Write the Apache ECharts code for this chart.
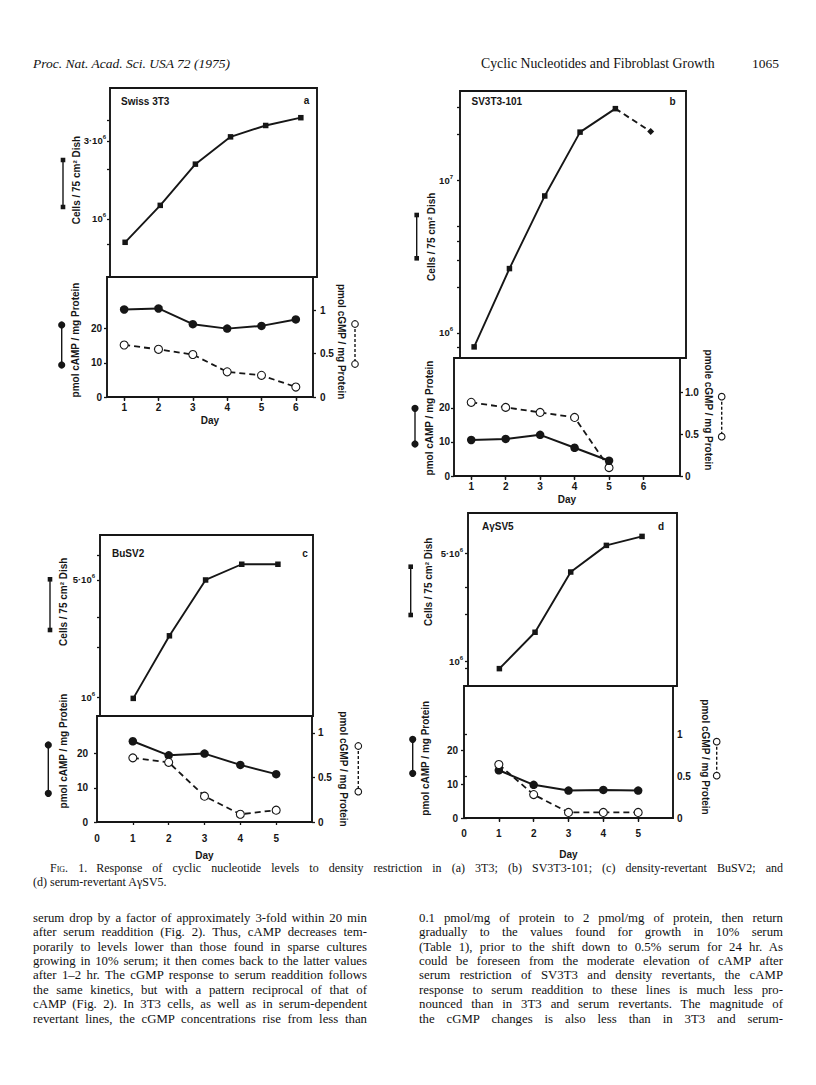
<!DOCTYPE html>
<html>
<head>
<meta charset="utf-8">
<title>Fig. 1 – Cyclic nucleotides and fibroblast growth</title>
<script src="https://cdn.jsdelivr.net/npm/echarts@6.0.0/dist/echarts.min.js"></script>
<style>
  html, body { margin:0; padding:0; background:#fff; }
  #page { position:relative; width:816px; height:1085px; overflow:hidden; background:#fff; }
  #chart { position:absolute; left:0; top:0; width:816px; height:1085px; }
  .tx { position:absolute; font-family:'Liberation Serif','Times New Roman',serif; color:#111; white-space:nowrap; }
</style>
</head>
<body>
<div id="page"><div id="chart"></div></div>
<script>
// ===================== DATA =====================
// (a) Swiss 3T3
const daysA  = [1, 2, 3, 4, 5, 6];
const cellsA = [7.2e5, 1.21e6, 2.16e6, 3.17e6, 3.72e6, 4.15e6];
const campA  = [25.6, 25.9, 21.3, 20.0, 20.8, 22.7];
const cgmpA  = [0.60, 0.55, 0.49, 0.29, 0.25, 0.115];
// (b) SV3T3-101
const daysB    = [1, 2, 3, 4, 5, 6];
const cellsB   = [8.1e5, 2.64e6, 7.9e6, 2.07e7, 2.95e7, 2.09e7];
const nucDaysB = [1, 2, 3, 4, 5];
const campB    = [10.6, 10.9, 12.1, 8.3, 4.5];
const cgmpB    = [0.88, 0.82, 0.76, 0.70, 0.10];
// (c) BuSV2
const daysC  = [1, 2, 3, 4, 5];
const cellsC = [9.9e5, 2.33e6, 5.0e6, 6.2e6, 6.2e6];
const campC  = [23.6, 19.5, 20.0, 16.7, 14.0];
const cgmpC  = [0.72, 0.67, 0.29, 0.087, 0.133];
// (d) AγSV5
const daysD  = [1, 2, 3, 4, 5];
const cellsD = [8.97e5, 1.54e6, 3.77e6, 5.6e6, 6.4e6];
const campD  = [14.1, 9.8, 8.1, 8.3, 8.1];
const cgmpD  = [0.64, 0.28, 0.067, 0.067, 0.067];

// ===================== TICKS / LABELS =====================
const dayTicks16   = [1, 2, 3, 4, 5, 6];
const dayTicks15   = [1, 2, 3, 4, 5];
const dayLabels05  = [0, 1, 2, 3, 4, 5];
const campTicks    = [0, 10, 20];
const cgmpTicks    = [0, 0.5, 1];
const cgmpLabels   = ['0', '0.5', '1'];
const cgmpLabelsB  = ['0', '0.5', '1.0'];
const cellMarksA   = [7e5, 1e6, 2e6, 3e6, 4e6];
const cellLabValA  = [1e6, 3e6];
const cellLabA     = ['10^6', '3·10^6'];
const cellMarksB   = [8e5, 1e6, 2e6, 3e6, 4e6, 5e6, 1e7, 2e7, 3e7];
const cellLabValB  = [1e6, 1e7];
const cellLabB     = ['10^6', '10^7'];
const cellMarksC   = [1e6, 2e6, 3e6, 5e6, 7e6];
const cellLabValC  = [1e6, 5e6];
const cellLabC     = ['10^6', '5·10^6'];
const cellMarksD   = [9e5, 1e6, 2e6, 3e6, 5e6];
const cellLabValD  = [1e6, 5e6];
const cellLabD     = ['10^6', '5·10^6'];

const panelNames   = ['Swiss 3T3', 'SV3T3-101', 'BuSV2', 'AγSV5'];
const panelLetters = ['a', 'b', 'c', 'd'];
const cellsName    = 'Cells / 75 cm² Dish';
const campName     = 'pmol cAMP / mg Protein';
const cgmpNames    = ['pmol cGMP / mg Protein', 'pmole cGMP / mg Protein', 'pmol cGMP / mg Protein', 'pmol cGMP / mg Protein'];
const dayName      = 'Day';

// ===================== PAGE TEXT =====================
const headerLeft   = 'Proc. Nat. Acad. Sci. USA 72 (1975)';
const headerTitle  = 'Cyclic Nucleotides and Fibroblast Growth';
const headerPage   = '1065';
const captionLabel = 'Fig. 1.';
const captionLines = [
  'Response of cyclic nucleotide levels to density restriction in (a) 3T3; (b) SV3T3-101; (c) density-revertant BuSV2; and',
  '(d) serum-revertant AγSV5.'
];
const leftColumn = [
  'serum drop by a factor of approximately 3-fold within 20 min',
  'after serum readdition (Fig. 2). Thus, cAMP decreases tem-',
  'porarily to levels lower than those found in sparse cultures',
  'growing in 10% serum; it then comes back to the latter values',
  'after 1–2 hr. The cGMP response to serum readdition follows',
  'the same kinetics, but with a pattern reciprocal of that of',
  'cAMP (Fig. 2). In 3T3 cells, as well as in serum-dependent',
  'revertant lines, the cGMP concentrations rise from less than'
];
const rightColumn = [
  '0.1 pmol/mg of protein to 2 pmol/mg of protein, then return',
  'gradually to the values found for growth in 10% serum',
  '(Table 1), prior to the shift down to 0.5% serum for 24 hr. As',
  'could be foreseen from the moderate elevation of cAMP after',
  'serum restriction of SV3T3 and density revertants, the cAMP',
  'response to serum readdition to these lines is much less pro-',
  'nounced than in 3T3 and serum revertants. The magnitude of',
  'the cGMP changes is also less than in 3T3 and serum-'
];

// ===================== LAYOUT =====================
const INK  = '#161616';
const SANS = "'Liberation Sans', Arial, Helvetica, sans-serif";

const panels = [
  { days: daysA, cells: cellsA, nucDays: daysA, camp: campA, cgmp: cgmpA,
    marks: cellMarksA, labVals: cellLabValA, labs: cellLabA,
    dayLabelVals: dayTicks16, dayTickVals: dayTicks16, cgmpLabs: cgmpLabels, dashedTail: false, campOnTop: false,
    up: { l:110, t:88, w:207, h:189, xmin:0.57, xmax:6.46, ymin:4.42e5, ymax:6.3e6, lm:4 },
    lo: { l:107, t:277, w:206, h:120, xmin:0.5, xmax:6.5, lmax:35.1, rmax:1.384, lm:5, rm:7, xm:5, dayGap:18, topTicks:true },
    title:[121, 101.5], letter:[306.5, 100.5],
    nCells:[76.7, 180], nCamp:[75, 340], nCgmp:[341.7, 341.7],
    gCells:[63, 160, 207], gCamp:[61.7, 325, 365], gCgmp:[355, 324, 364] },
  { days: daysB, cells: cellsB, nucDays: nucDaysB, camp: campB, cgmp: cgmpB,
    marks: cellMarksB, labVals: cellLabValB, labs: cellLabB,
    dayLabelVals: dayTicks16, dayTickVals: dayTicks16, cgmpLabs: cgmpLabelsB, dashedTail: true, campOnTop: true,
    up: { l:460, t:91, w:226, h:267, xmin:0.6, xmax:7.0, ymin:6.85e5, ymax:3.85e7, lm:7 },
    lo: { l:454, t:358, w:226, h:118, xmin:0.5, xmax:7.06, lmax:34.7, rmax:1.41, lm:4, rm:5, xm:5, dayGap:18, topTicks:true },
    title:[471.5, 101.5], letter:[672.5, 101.5],
    nCells:[431.7, 236.7], nCamp:[429, 418], nCgmp:[708, 410],
    gCells:[416.7, 215, 258.3], gCamp:[415, 408.3, 444], gCgmp:[721.7, 396.7, 436.7] },
  { days: daysC, cells: cellsC, nucDays: daysC, camp: campC, cgmp: cgmpC,
    marks: cellMarksC, labVals: cellLabValC, labs: cellLabC,
    dayLabelVals: dayLabels05, dayTickVals: dayTicks15, cgmpLabs: cgmpLabels, dashedTail: false, campOnTop: false,
    up: { l:100, t:535, w:213, h:181, xmin:0.08, xmax:5.97, ymin:7.78e5, ymax:9.25e6, lm:5 },
    lo: { l:97, t:716, w:215, h:106, xmin:0, xmax:6, lmax:31, rmax:1.19, lm:9, rm:6, xm:11, dayGap:28, topTicks:false },
    title:[112, 553.3], letter:[305, 553.3],
    nCells:[63.3, 601.7], nCamp:[63.3, 751], nCgmp:[343, 769],
    gCells:[50, 579.3, 630], gCamp:[48.3, 745, 793.3], gCgmp:[358.3, 746, 791.7] },
  { days: daysD, cells: cellsD, nucDays: daysD, camp: campD, cgmp: cgmpD,
    marks: cellMarksD, labVals: cellLabValD, labs: cellLabD,
    dayLabelVals: dayLabels05, dayTickVals: dayTicks15, cgmpLabs: cgmpLabels, dashedTail: false, campOnTop: false,
    up: { l:468, t:513, w:209, h:173, xmin:0.12, xmax:5.98, ymin:6.93e5, ymax:9.06e6, lm:5 },
    lo: { l:464, t:686, w:209, h:132, xmin:0, xmax:6, lmax:39, rmax:1.58, lm:6, rm:4, xm:10, dayGap:31, topTicks:true },
    title:[482, 526.7], letter:[661, 526.5],
    nCells:[428.3, 581.7], nCamp:[425, 758.3], nCgmp:[705, 757],
    gCells:[410.7, 566.7, 615], gCamp:[412.7, 739.3, 773.3], gCgmp:[716.7, 741.7, 775.7] }
];

// ===================== BUILD OPTION =====================
const grids = [], xAxes = [], yAxes = [], series = [], graphics = [];
const TICK = { color: INK, width: 1.3 };
const LBL = { color: INK, fontFamily: SANS, fontWeight: 'bold', fontSize: 10 };
const RICH = {
  n: { color: INK, fontFamily: SANS, fontWeight: 'bold', fontSize: 9.5 },
  s: { color: INK, fontFamily: SANS, fontWeight: 'bold', fontSize: 6, padding: [0, 0, 7, 0] }
};

function pick(v, vals, labs) {
  for (let i = 0; i < vals.length; i++) {
    if (Math.abs(v - vals[i]) <= 1e-6 * Math.max(1, Math.abs(vals[i]))) return labs[i];
  }
  return '';
}
function supLabel(str) {
  const parts = str.split('^');
  return parts.length === 2 ? '{n|' + parts[0] + '}{s|' + parts[1] + '}' : '{n|' + str + '}';
}
function gridBox(g) {
  return { left: g.l, top: g.t, width: g.w, height: g.h, show: true, borderColor: INK, borderWidth: 1.9,
           backgroundColor: 'transparent', containLabel: false, outerBoundsMode: 'none' };
}
function zip(xs, ys) { return xs.map((x, i) => [x, ys[i]]); }

function addText(txt, x, y, rot, size, weight) {
  graphics.push({ type: 'text', x: x, y: y, rotation: rot || 0, silent: true,
    style: { text: txt, fill: INK, fontFamily: SANS, fontSize: size || 10, fontWeight: weight || 'bold',
             align: 'center', verticalAlign: 'middle' } });
}
function addTextLeft(txt, x, y, size, weight) {
  graphics.push({ type: 'text', x: x, y: y, silent: true,
    style: { text: txt, fill: INK, fontFamily: SANS, fontSize: size || 10, fontWeight: weight || 'bold',
             align: 'left', verticalAlign: 'middle' } });
}
function addGlyph(g, kind) {
  const [x, y1, y2] = g;
  graphics.push({ type: 'line', silent: true, shape: { x1: x, y1: y1, x2: x, y2: y2 },
    style: { stroke: INK, lineWidth: 1.4, lineDash: kind === 'ring' ? [3, 2] : null } });
  [y1, y2].forEach(y => {
    if (kind === 'square') {
      graphics.push({ type: 'rect', silent: true, shape: { x: x - 2.3, y: y - 2.3, width: 4.6, height: 4.6 }, style: { fill: INK } });
    } else if (kind === 'dot') {
      graphics.push({ type: 'circle', silent: true, shape: { cx: x, cy: y, r: 3.6 }, style: { fill: INK } });
    } else {
      graphics.push({ type: 'circle', silent: true, shape: { cx: x, cy: y, r: 3.3 }, style: { fill: '#fff', stroke: INK, lineWidth: 1.1 } });
    }
  });
}

panels.forEach((p, k) => {
  const U = p.up, L = p.lo;
  const gU = grids.length; grids.push(gridBox(U));
  const gL = grids.length; grids.push(gridBox(L));

  // ---- upper (cell number, log scale)
  const xU = xAxes.length;
  xAxes.push({ type: 'value', gridIndex: gU, min: U.xmin, max: U.xmax,
    axisLine: { show: false }, axisTick: { show: false }, axisLabel: { show: false }, splitLine: { show: false } });
  const yU = yAxes.length;
  yAxes.push({ type: 'log', logBase: 10, gridIndex: gU, position: 'left', min: U.ymin, max: U.ymax,
    axisLine: { show: false }, splitLine: { show: false }, minorTick: { show: false },
    axisTick: { show: true, length: 3, customValues: p.marks, lineStyle: TICK },
    axisLabel: { show: true, margin: U.lm, customValues: p.labVals, rich: RICH,
      formatter: v => supLabel(pick(v, p.labVals, p.labs)) } });

  const solidN = p.dashedTail ? p.days.length - 1 : p.days.length;
  series.push({ type: 'line', xAxisIndex: xU, yAxisIndex: yU, silent: true, z: 3,
    data: zip(p.days.slice(0, solidN), p.cells.slice(0, solidN)),
    symbol: 'rect', symbolSize: 5.5, showSymbol: true,
    lineStyle: { color: INK, width: 1.9 }, itemStyle: { color: INK } });
  if (p.dashedTail) {
    const n = p.days.length;
    series.push({ type: 'line', xAxisIndex: xU, yAxisIndex: yU, silent: true, z: 3,
      data: [{ value: [p.days[n - 2], p.cells[n - 2]], symbol: 'none' }, { value: [p.days[n - 1], p.cells[n - 1]] }],
      symbol: 'diamond', symbolSize: 7,
      lineStyle: { color: INK, width: 1.9, type: [6, 4] }, itemStyle: { color: INK } });
  }

  // ---- lower (nucleotides)
  const xL = xAxes.length;
  xAxes.push({ type: 'value', gridIndex: gL, position: 'bottom', min: L.xmin, max: L.xmax,
    name: dayName, nameLocation: 'middle', nameGap: L.dayGap, nameMoveOverlap: false,
    nameTextStyle: { color: INK, fontFamily: SANS, fontWeight: 'bold', fontSize: 10 },
    axisLine: { show: false }, splitLine: { show: false },
    axisTick: { show: true, length: 3, customValues: p.dayTickVals, lineStyle: TICK },
    axisLabel: Object.assign({ margin: L.xm, customValues: p.dayLabelVals, formatter: v => String(v) }, LBL) });
  if (L.topTicks) {
    xAxes.push({ type: 'value', gridIndex: gL, position: 'top', min: L.xmin, max: L.xmax,
      axisLine: { show: false }, splitLine: { show: false }, axisLabel: { show: false },
      axisTick: { show: true, inside: true, length: 4, customValues: p.dayTickVals, lineStyle: TICK } });
  }
  const yCamp = yAxes.length;
  yAxes.push({ type: 'value', gridIndex: gL, position: 'left', min: 0, max: L.lmax,
    axisLine: { show: false }, splitLine: { show: false },
    axisTick: { show: true, length: 3, customValues: campTicks, lineStyle: TICK },
    axisLabel: Object.assign({ margin: L.lm, customValues: campTicks, formatter: v => String(v) }, LBL) });
  const yCgmp = yAxes.length;
  yAxes.push({ type: 'value', gridIndex: gL, position: 'right', min: 0, max: L.rmax,
    axisLine: { show: false }, splitLine: { show: false },
    axisTick: { show: true, length: 3, customValues: cgmpTicks, lineStyle: TICK },
    axisLabel: Object.assign({ margin: L.rm, customValues: cgmpTicks, formatter: v => pick(v, cgmpTicks, p.cgmpLabs) }, LBL) });

  const campSeries = { type: 'line', xAxisIndex: xL, yAxisIndex: yCamp, silent: true,
    z: p.campOnTop ? 5 : 3,
    data: zip(p.nucDays, p.camp), symbol: 'circle', symbolSize: 8.5,
    lineStyle: { color: INK, width: 2.0 }, itemStyle: { color: INK } };
  const cgmpSeries = { type: 'line', xAxisIndex: xL, yAxisIndex: yCgmp, silent: true,
    z: p.campOnTop ? 3 : 5,
    data: zip(p.nucDays, p.cgmp), symbol: 'circle', symbolSize: 8,
    lineStyle: { color: INK, width: 1.8, type: [6, 4] },
    itemStyle: { color: '#fff', borderColor: INK, borderWidth: 1.1 } };
  series.push(campSeries, cgmpSeries);

  // ---- labels, titles and key glyphs
  addTextLeft(panelNames[k], p.title[0], p.title[1], 10, 'bold');
  addText(panelLetters[k], p.letter[0], p.letter[1], 0, 10, 'bold');
  addText(cellsName, p.nCells[0], p.nCells[1], Math.PI / 2, 10, 'bold');
  addText(campName, p.nCamp[0], p.nCamp[1], Math.PI / 2, 10, 'bold');
  addText(cgmpNames[k], p.nCgmp[0], p.nCgmp[1], -Math.PI / 2, 10, 'bold');
  addGlyph(p.gCells, 'square');
  addGlyph(p.gCamp, 'dot');
  addGlyph(p.gCgmp, 'ring');
});

const chart = echarts.init(document.getElementById('chart'), null, { renderer: 'svg', width: 816, height: 1085 });
chart.setOption({
  animation: false,
  backgroundColor: '#fff',
  grid: grids, xAxis: xAxes, yAxis: yAxes, series: series,
  graphic: { elements: graphics }
});

// ===================== PAGE TEXT (HTML, justified lines) =====================
const page = document.getElementById('page');
function placeLine(html, left, centerY, width, size, extraStyle) {
  const d = document.createElement('div');
  d.className = 'tx';
  d.style.left = left + 'px';
  d.style.fontSize = size + 'px';
  d.style.lineHeight = (size * 1.2) + 'px';
  d.style.top = (centerY - size * 0.6) + 'px';
  if (extraStyle) Object.assign(d.style, extraStyle);
  d.innerHTML = html;
  page.appendChild(d);
  if (width) {
    const natural = d.getBoundingClientRect().width;
    const spaces = (d.textContent.match(/ /g) || []).length;
    if (spaces > 0) d.style.wordSpacing = ((width - natural) / spaces) + 'px';
  }
  return d;
}
function esc(s) { return s.replace(/&/g, '&amp;').replace(/</g, '&lt;'); }

placeLine(esc(headerLeft), 33, 64, 0, 13.5, { fontStyle: 'italic' });
placeLine(esc(headerTitle), 481, 64, 0, 13.8);
placeLine(esc(headerPage), 752, 64, 0, 13.5);

placeLine('<span style="font-variant:small-caps;margin-right:9px">' + captionLabel + '</span>' + esc(captionLines[0]),
          50, 868.5, 733, 12);
placeLine(esc(captionLines[1]), 33, 882, 0, 12);

const bodyTop = 918.5, bodyStep = 14.4;
leftColumn.forEach((t, i) => placeLine(esc(t), 33, bodyTop + i * bodyStep, 334, 12.8));
rightColumn.forEach((t, i) => placeLine(esc(t), 419, bodyTop + i * bodyStep, 364, 12.8));
</script>
</body>
</html>
